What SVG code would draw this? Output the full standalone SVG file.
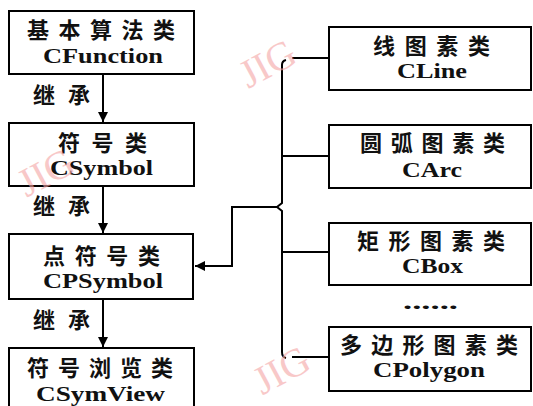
<svg xmlns="http://www.w3.org/2000/svg" width="533" height="406" viewBox="0 0 533 406">
<style>
.box{fill:#fff;stroke:#000;stroke-width:2}
.zh{font-family:"Noto Sans CJK SC",sans-serif;font-size:22px;font-weight:700;fill:#111}
.en{font-family:"Liberation Serif",serif;font-size:21px;font-weight:700;fill:#111}
.ln{fill:none;stroke:#000;stroke-width:2}
.wm{font-family:"Liberation Serif",serif;font-size:40px;fill:#f5a5a5;opacity:0.6}
</style>
<defs>
<marker id="ah" viewBox="0 0 10 10" refX="10" refY="5" markerWidth="5" markerHeight="5" orient="auto" markerUnits="strokeWidth">
<path d="M0,0 L10,5 L0,10 Z" fill="#000"/>
</marker>
</defs>
<rect width="533" height="406" fill="#fff"/>
<g id="connectors">
<line class="ln" x1="103" y1="74" x2="103" y2="122" marker-end="url(#ah)"/>
<line class="ln" x1="103" y1="186" x2="103" y2="233" marker-end="url(#ah)"/>
<line class="ln" x1="103" y1="299" x2="103" y2="347" marker-end="url(#ah)"/>
<path class="ln" d="M286,60 Q282,61 282,65 V203 L277,207 L282,211 V352 Q282,357 286,358"/>
<line class="ln" x1="292" y1="58" x2="329" y2="58"/>
<line class="ln" x1="282" y1="156" x2="329" y2="156"/>
<line class="ln" x1="282" y1="252" x2="329" y2="252"/>
<line class="ln" x1="292" y1="357" x2="329" y2="357"/>
<path class="ln" d="M277,207 H232 V266 H195" stroke-width="1.5" marker-end="url(#ah)"/>
</g>
<g id="n1"><rect class="box" x="9" y="11" width="185" height="63"/>
<text class="zh" x="27" y="38" textLength="148" lengthAdjust="spacing">基本算法类</text>
<text class="en" x="43" y="63" textLength="120" lengthAdjust="spacingAndGlyphs">CFunction</text></g>
<g id="n2"><rect class="box" x="9" y="123" width="185" height="63"/>
<text class="zh" x="58" y="151" textLength="89" lengthAdjust="spacing">符号类</text>
<text class="en" x="50" y="175" textLength="103" lengthAdjust="spacingAndGlyphs">CSymbol</text></g>
<g id="n3"><rect class="box" x="9" y="234" width="184" height="65"/>
<text class="zh" x="43" y="264" textLength="117" lengthAdjust="spacing">点符号类</text>
<text class="en" x="43" y="288" textLength="120" lengthAdjust="spacingAndGlyphs">CPSymbol</text></g>
<g id="n4"><rect class="box" x="9" y="348" width="185" height="70"/>
<text class="zh" x="27" y="376" textLength="146" lengthAdjust="spacing">符号浏览类</text>
<text class="en" x="36" y="401" textLength="129" lengthAdjust="spacingAndGlyphs">CSymView</text></g>
<g id="labels">
<text class="zh" x="33" y="103" textLength="57" lengthAdjust="spacing">继承</text>
<text class="zh" x="33" y="214" textLength="57" lengthAdjust="spacing">继承</text>
<text class="zh" x="33" y="328" textLength="57" lengthAdjust="spacing">继承</text>
</g>
<g id="r1"><rect class="box" x="329" y="27" width="202" height="63"/>
<text class="zh" x="373" y="54" textLength="117" lengthAdjust="spacing">线图素类</text>
<text class="en" x="397" y="78" textLength="70" lengthAdjust="spacingAndGlyphs">CLine</text></g>
<g id="r2"><rect class="box" x="329" y="125" width="202" height="63"/>
<text class="zh" x="360" y="151" textLength="145" lengthAdjust="spacing">圆弧图素类</text>
<text class="en" x="402" y="177" textLength="60" lengthAdjust="spacingAndGlyphs">CArc</text></g>
<g id="r3"><rect class="box" x="329" y="223" width="202" height="62"/>
<text class="zh" x="357" y="249" textLength="148" lengthAdjust="spacing">矩形图素类</text>
<text class="en" x="402" y="273" textLength="61" lengthAdjust="spacingAndGlyphs">CBox</text></g>
<text id="dots" class="en" x="403" y="309" textLength="55" lengthAdjust="spacingAndGlyphs">......</text>
<g id="r4"><rect class="box" x="329" y="327" width="202" height="64"/>
<text class="zh" x="340" y="353" textLength="178" lengthAdjust="spacing">多边形图素类</text>
<text class="en" x="373" y="377" textLength="112" lengthAdjust="spacingAndGlyphs">CPolygon</text></g>
<g id="watermarks">
<text class="wm" x="236" y="80" transform="rotate(-28 260 60)">JIG</text>
<text class="wm" x="12" y="190" transform="rotate(-28 35 165)">JIG</text>
<text class="wm" x="250" y="386" transform="rotate(-28 275 366)">JIG</text>
</g>
</svg>
